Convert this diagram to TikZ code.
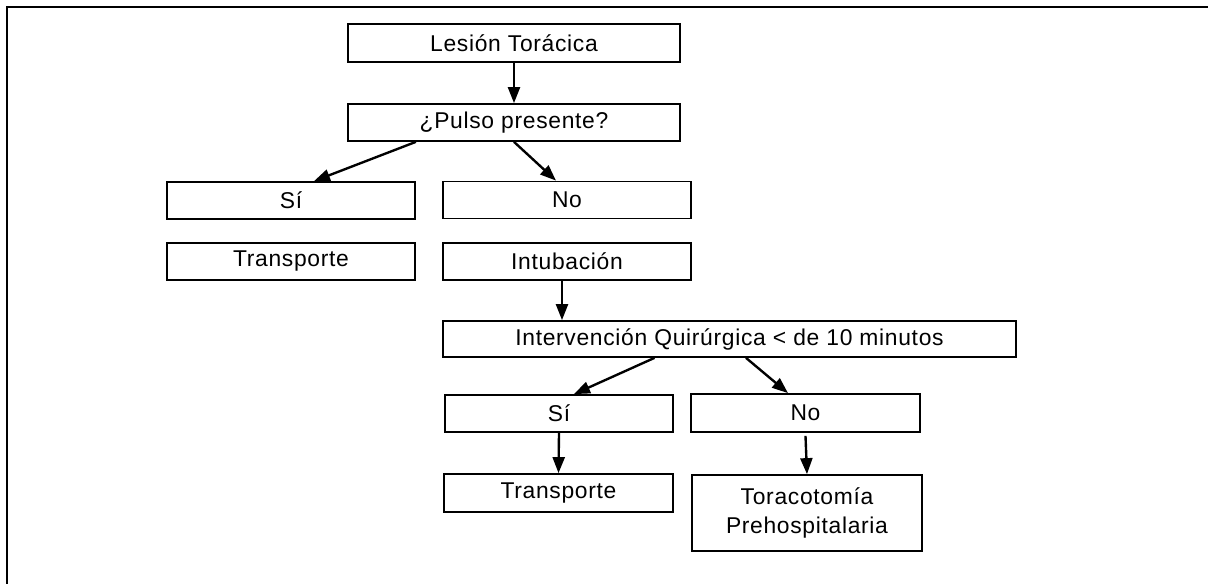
\documentclass[tikz,border=0pt]{standalone}
\usepackage{fontspec}
\setmainfont{Liberation Sans}[LetterSpace=3]
\usepackage{tikz}
\usetikzlibrary{calc,arrows.meta,positioning}

\begin{document}
\begin{tikzpicture}[x=0.02cm,y=-0.02cm,
    caja/.style={draw,line width=1pt,minimum height=0.74cm,inner sep=0pt,font=\fontsize{13}{15}\selectfont},
    flecha/.style={line width=1.35pt,-{Triangle[length=3.2mm,width=2.4mm]}}]
        \useasboundingbox(0,0)rectangle(1208,584);
        \draw[line width=1.7pt](7,584)--(7,7)--(1208,7);
        % primer nivel
        \node[caja,minimum width=6.64cm,minimum height=0.76cm](lesion)at(514,43){Lesión Torácica};
        \node[caja,minimum width=6.64cm](pulso)at(514,122.5){¿Pulso presente?};
        \node[caja,minimum width=4.96cm](si1)at(291,200.5){Sí};
        \node[caja,minimum width=4.96cm](no1)at(567,200){No};
        \node[caja,minimum width=4.96cm](trans1)at(291,261.5){Transporte};
        \node[caja,minimum width=4.96cm](intub)at(567,261.5){Intubación};
        % segundo nivel
        \node[caja,minimum width=11.46cm,minimum height=0.72cm](interv)at(729.5,339){Intervención Quirúrgica < de 10 minutos};
        \node[caja,minimum width=4.56cm](si2)at(559,413.5){Sí};
        \node[caja,minimum width=4.58cm,minimum height=0.76cm](no2)at(805.5,413){No};
        \node[caja,minimum width=4.58cm,minimum height=0.76cm](trans2)at(558.5,493){Transporte};
        \node[caja,minimum width=4.6cm,minimum height=1.52cm,align=center](torac)at(807,513){Toracotomía\\[2pt]Prehospitalaria};
        % flechas
        \draw[flecha](lesion.south)--(pulso.north);
        \draw[flecha](pulso.south -| si1.east)--([xshift=0.46cm]si1.north);
        \draw[flecha](pulso.south)--([xshift=-0.22cm]no1.north);
        \draw[flecha]([xshift=-0.1cm]intub.south)--([xshift=-0.1cm]intub.south |- interv.north);
        \draw[flecha]([xshift=-1.5cm]interv.south)--([xshift=0.3cm]si2.north);
        \draw[flecha]([xshift=0.33cm]interv.south)--([xshift=-0.35cm]no2.north);
        \draw[flecha](si2.south)--(trans2.north);
        \draw[flecha]([yshift=-0.06cm]no2.south)--(torac.north);
    \end{tikzpicture}
\end{document}
